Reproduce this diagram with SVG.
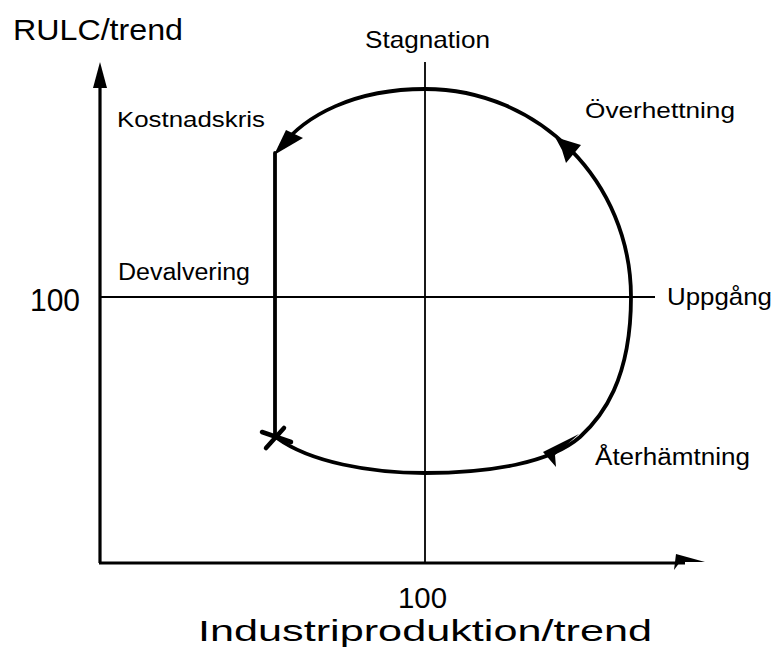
<svg xmlns="http://www.w3.org/2000/svg" width="777" height="661" viewBox="0 0 777 661">
<style>
text{font-family:"Liberation Sans",Arial,sans-serif;fill:#000}
.thin{stroke:#000;stroke-width:1.8;fill:none}
.axis{stroke:#000;stroke-width:3.2;fill:none}
.loop{stroke:#000;stroke-width:3.8;fill:none;stroke-linecap:round}
.head{fill:#000;stroke:none}
</style>
<rect width="777" height="661" fill="#fff"/>
<g id="axes">
<line class="axis" x1="100" y1="563" x2="100" y2="80"/>
<polygon class="head" points="100,62 93,88 107,88"/>
<line class="axis" x1="99" y1="563" x2="685" y2="563"/>
<polygon class="head" points="705,562 676,554 674,570 680,562"/>
</g>
<g id="gridlines">
<line class="thin" x1="100" y1="297" x2="655" y2="297"/>
<line class="thin" x1="425" y1="62" x2="425" y2="563"/>
</g>
<g id="connectors">
<path class="loop" d="M277,438 C310,462 370,473 425,473 C490,473 550,463 580,437 C602,417 631,380 631,297 C631,182 539,89 425,89 C355,89 305,115 280,148"/>
<line class="loop" x1="275" y1="153" x2="275" y2="438"/>
<polygon class="head" points="274,155 286,130 303,138"/>
<polygon class="head" points="579,434 543,452 556,467 555,455"/>
<polygon class="head" points="555,137 581,145 566,163 562,150"/>
<path d="M262,432 L291,442 M266,448 L284,428" stroke="#000" stroke-width="4.5" fill="none" stroke-linecap="round"/>
</g>
<g id="labels">
<text x="13" y="40" font-size="29" textLength="170" lengthAdjust="spacingAndGlyphs">RULC/trend</text>
<text x="365" y="48" font-size="24" textLength="125" lengthAdjust="spacingAndGlyphs">Stagnation</text>
<text x="117" y="127" font-size="22" textLength="148" lengthAdjust="spacingAndGlyphs">Kostnadskris</text>
<text x="585" y="118" font-size="22" textLength="150" lengthAdjust="spacingAndGlyphs">Överhettning</text>
<text x="118" y="280" font-size="23" textLength="132" lengthAdjust="spacingAndGlyphs">Devalvering</text>
<text x="30" y="311" font-size="31" textLength="50" lengthAdjust="spacingAndGlyphs">100</text>
<text x="667" y="305" font-size="24" textLength="105" lengthAdjust="spacingAndGlyphs">Uppgång</text>
<text x="595" y="465" font-size="23" textLength="155" lengthAdjust="spacingAndGlyphs">Återhämtning</text>
<text x="398" y="608" font-size="29" textLength="49" lengthAdjust="spacingAndGlyphs">100</text>
<text x="198" y="641" font-size="30" textLength="454" lengthAdjust="spacingAndGlyphs">Industriproduktion/trend</text>
</g>
</svg>
